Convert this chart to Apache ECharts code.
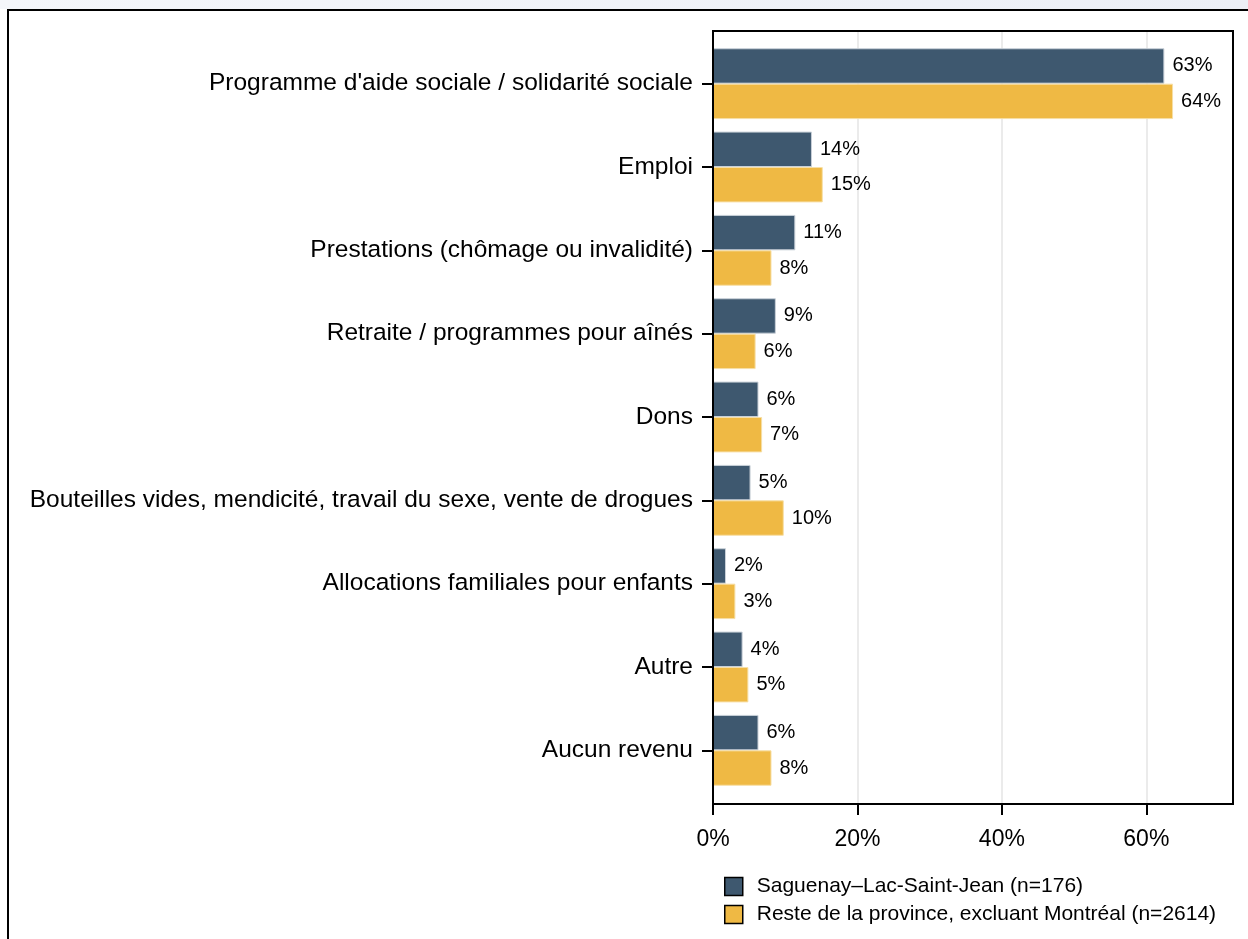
<!DOCTYPE html>
<html>
<head>
<meta charset="utf-8">
<script src="https://cdn.jsdelivr.net/npm/echarts@6/dist/echarts.min.js"></script>
<style>
html,body{margin:0;padding:0;background:#fff;}
#topstrip{position:absolute;left:0;top:0;width:1248px;height:9px;background:linear-gradient(90deg,#f4f6fa,#eceff6);}
#frame{position:absolute;left:7px;top:9px;width:1300px;height:1000px;border-left:2px solid #000;border-top:2px solid #000;pointer-events:none;z-index:2;}
#chart{position:absolute;left:0;top:0;width:1248px;height:939px;}
</style>
</head>
<body>
<div id="topstrip"></div>
<div id="chart"></div>
<div id="frame"></div>
<script>
const categories = [
  "Programme d'aide sociale / solidarité sociale",
  "Emploi",
  "Prestations (chômage ou invalidité)",
  "Retraite / programmes pour aînés",
  "Dons",
  "Bouteilles vides, mendicité, travail du sexe, vente de drogues",
  "Allocations familiales pour enfants",
  "Autre",
  "Aucun revenu"
];
const seriesNames = [
  "Saguenay–Lac-Saint-Jean (n=176)",
  "Reste de la province, excluant Montréal (n=2614)"
];
const saguenay = [62.5, 13.7, 11.4, 8.7, 6.3, 5.2, 1.8, 4.1, 6.3];
const reste = [63.7, 15.2, 8.1, 5.9, 6.8, 9.8, 3.1, 4.9, 8.1];
const xTicks = [0, 20, 40, 60];

const FONT = "'Liberation Sans', Arial, sans-serif";
const chart = echarts.init(document.getElementById('chart'), null, {renderer: 'canvas'});

function mkSeries(name, data, color, border) {
  return {
    name: name,
    type: 'bar',
    xAxisIndex: 0,
    yAxisIndex: 0,
    data: data,
    barGap: '0%',
    barCategoryGap: '15%',
    itemStyle: {color: color, borderColor: border, borderWidth: 1},
    label: {
      show: true,
      position: 'right',
      distance: 8,
      fontFamily: FONT,
      fontSize: 20,
      color: '#000',
      formatter: p => Math.round(p.value) + '%'
    },
    emphasis: {disabled: true}
  };
}

chart.setOption({
  animation: false,
  backgroundColor: 'transparent',
  textStyle: {fontFamily: FONT},
  grid: [
    {left: 713, right: 15, top: 42, bottom: 147},
    {left: 713, right: 15, top: 31, bottom: 135, show: true, borderColor: '#000', borderWidth: 2, backgroundColor: 'transparent', z: 5}
  ],
  xAxis: [
    {
      type: 'value', gridIndex: 0, min: 0, max: 72, interval: 20, offset: 12,
      axisLine: {show: false},
      axisTick: {show: true, length: 11, lineStyle: {color: '#000', width: 2}, customValues: xTicks},
      axisLabel: {fontFamily: FONT, fontSize: 23, color: '#000', margin: 24, formatter: '{value}%', customValues: xTicks},
      splitLine: {show: false}
    },
    {
      type: 'value', gridIndex: 1, min: 0, max: 72, interval: 20,
      axisLine: {show: false}, axisTick: {show: false}, axisLabel: {show: false},
      splitLine: {show: true, lineStyle: {color: '#e4e4e4', width: 1.5}}
    }
  ],
  yAxis: [
    {
      type: 'category', gridIndex: 0, inverse: true, data: categories,
      axisLine: {show: false},
      axisTick: {show: true, alignWithLabel: true, length: 11, lineStyle: {color: '#000', width: 2}},
      axisLabel: {fontFamily: FONT, fontSize: 24.5, color: '#000', margin: 20}
    },
    {type: 'value', gridIndex: 1, show: false}
  ],
  legend: {
    left: 724, top: 876, orient: 'vertical', padding: 0,
    itemWidth: 18, itemHeight: 18, itemGap: 7,
    icon: 'rect',
    itemStyle: {borderColor: '#000', borderWidth: 1.5},
    textStyle: {fontFamily: FONT, fontSize: 21, color: '#000', padding: [0, 0, 0, 9]},
    data: seriesNames
  },
  series: [
    mkSeries(seriesNames[0], saguenay, '#3e586f', '#c9d0d8'),
    mkSeries(seriesNames[1], reste, '#efb944', '#f7dfa6')
  ]
});
</script>
</body>
</html>
